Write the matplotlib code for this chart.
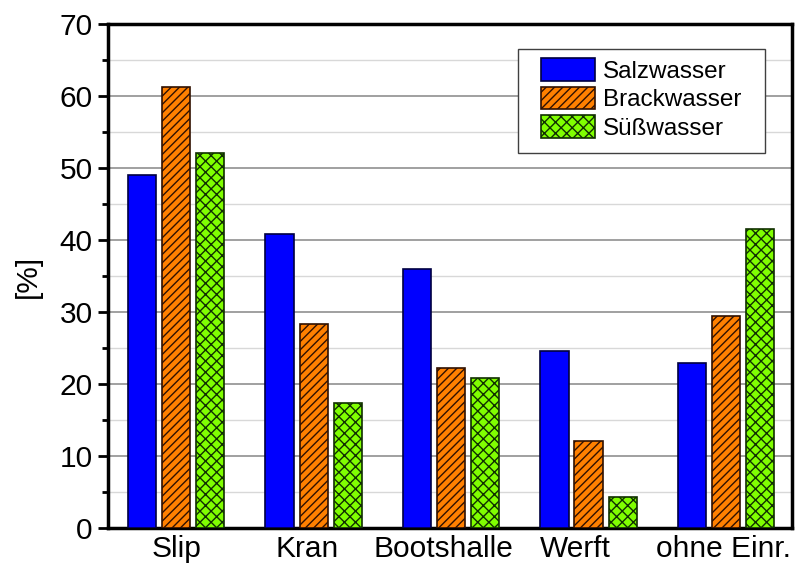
import matplotlib
matplotlib.use("Agg")
import matplotlib.pyplot as plt
import numpy as np
from matplotlib.ticker import MultipleLocator
from matplotlib.patches import Rectangle

categories = ["Slip", "Kran", "Bootshalle", "Werft", "ohne Einr."]
series_names = ["Salzwasser", "Brackwasser", "Süßwasser"]
salzwasser = [49.0, 40.9, 36.0, 24.6, 22.9]
brackwasser = [61.2, 28.3, 22.2, 12.1, 29.4]
suesswasser = [52.1, 17.3, 20.8, 4.3, 41.5]
label_shift = [0.0, -0.044, -0.058, -0.10, -0.015]

plt.rcParams['font.family'] = ['Liberation Sans', 'DejaVu Sans']
plt.rcParams['hatch.linewidth'] = 1.0

fig = plt.figure(figsize=(7.98, 5.70), dpi=100)
ax = fig.add_axes([0.1353, 0.0737, 0.8572, 0.8842])

x = np.arange(len(categories))
step = 0.248
width = 0.205
styles = [
    dict(color="#0000ff", edgecolor="#000040", hatch=None),
    dict(color="#ff8000", edgecolor="#301000", hatch="////"),
    dict(color="#80ff00", edgecolor="#103000", hatch="xxx"),
]
data = [salzwasser, brackwasser, suesswasser]
for k, (vals, st, name) in enumerate(zip(data, styles, series_names)):
    ax.bar(x + (k - 1) * step, vals, width, color=st["color"], edgecolor=st["edgecolor"],
           hatch=st["hatch"], linewidth=1.2, label=name, zorder=3)

ax.set_ylim(0, 70)
ax.set_xlim(-0.496, 4.48)
ax.yaxis.set_major_locator(MultipleLocator(10))
ax.yaxis.set_minor_locator(MultipleLocator(5))
ax.grid(axis='y', which='major', color='#909090', linewidth=1.2, zorder=0)
ax.grid(axis='y', which='minor', color='#d8d8d8', linewidth=1.0, zorder=0)
ax.set_axisbelow(True)

ax.set_xticks(x + np.array(label_shift))
ax.set_xticklabels(categories, fontsize=21.5)
ax.tick_params(axis='x', length=0, pad=5)
ax.tick_params(axis='y', which='major', length=7.5, width=2, labelsize=21.5, pad=3.5, direction='out')
ax.tick_params(axis='y', which='minor', length=4, width=2, direction='out')
for s in ax.spines.values():
    s.set_linewidth(2.5)

ax.set_ylabel("[%]", fontsize=21.5)
ax.yaxis.set_label_coords(-0.0965, 0.5)

# legend frame
ax.add_patch(Rectangle((0.5994, 0.744), 0.361, 0.206, transform=ax.transAxes,
                       facecolor='white', edgecolor='#404040', linewidth=1.0, zorder=4))
leg = ax.legend(loc='upper left', bbox_to_anchor=(0.633, 0.9325), borderaxespad=0,
                fontsize=17.5, frameon=False,
                handlelength=2.22, handleheight=1.07, handletextpad=0.33,
                labelspacing=0.16, borderpad=0)
leg.set_zorder(5)

fig.savefig("out.png", dpi=100)
